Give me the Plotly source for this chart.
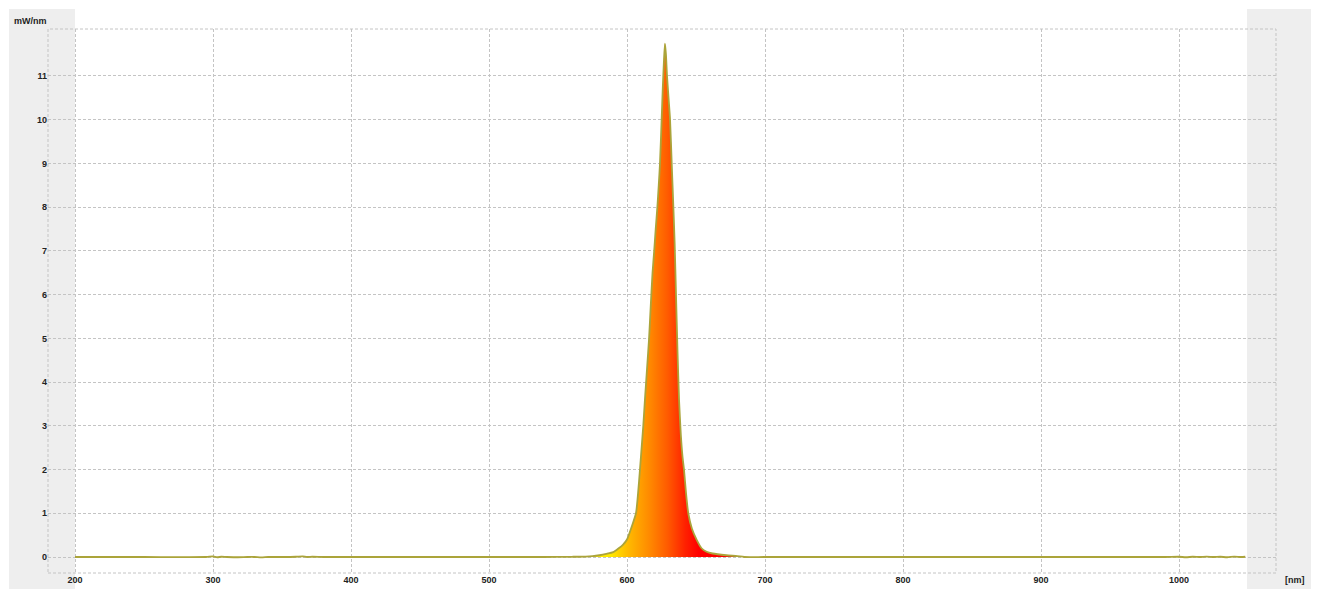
import plotly.graph_objects as go

# ---- data ----
wavelength_nm = [200, 250, 295, 300, 303, 306, 310, 318, 325, 330, 335, 340, 350, 360, 365, 368, 372,
                 380, 400, 450, 500, 540, 560, 570, 575, 580, 585, 590, 594, 597, 600, 603.5, 606.5,
                 608, 609.4, 610.6, 611.8, 613, 614.5, 616, 617.3, 618.5, 619.7, 620.8, 622, 623,
                 623.9, 625.1, 625.9, 626.7, 627.5, 628.2, 629, 630.1, 631.2, 632.4, 633.6, 634.5,
                 635.5, 636.6, 637.7, 639, 640.2, 641.3, 642.8, 644.4, 647, 650.5, 654,
                 657.7, 662, 672, 680, 685, 700, 800, 900, 960, 990, 1000, 1005, 1010, 1015, 1020,
                 1025, 1030, 1035, 1040, 1045, 1048]
power_mw_nm = [0.0, 0.0, 0.0, 0.012, -0.006, 0.006, 0.0, -0.006, 0.0, 0.0, -0.01, 0.0, 0.0, 0.006, 0.015, 0.0, 0.006,
               0.0, 0.0, 0.0, 0.0, 0.0, 0.005, 0.01, 0.02, 0.04, 0.07, 0.11, 0.2, 0.28, 0.4, 0.7, 1.0,
               1.45, 2.0, 2.5, 3.0, 3.6, 4.3, 5.0, 5.8, 6.5, 7.0, 7.5, 8.0, 8.5,
               9.0, 10.0, 10.7, 11.3, 11.74, 11.5, 11.0, 10.5, 10.0, 9.0, 8.0, 7.2,
               6.0, 4.7, 3.6, 2.8, 2.3, 2.0, 1.45, 1.0, 0.65, 0.39, 0.2,
               0.12, 0.08, 0.04, 0.02, 0.0, 0.0, 0.0, 0.0, 0.0, 0.0, 0.006, -0.006, 0.006, 0.0, 0.01,
               0.0, 0.006, -0.006, 0.01, 0.0, 0.006]
x_ticks = [200, 300, 400, 500, 600, 700, 800, 900, 1000]
y_ticks = [0, 1, 2, 3, 4, 5, 6, 7, 8, 9, 10, 11]
y_title = "mW/nm"
x_title = "[nm]"

W, H = 1323, 592
L, R, T, B = 48, 1276, 29, 573  # plot box in px


def px_x(p):
    return (p - L) / (R - L)


def px_y(p):
    return (B - p) / (B - T)


fig = go.Figure()
fig.add_trace(go.Scatter(
    x=wavelength_nm, y=power_mw_nm, mode="lines",
    line=dict(color="#ABA43A", width=1.8, shape="spline", smoothing=0.6),
    fill="tozeroy",
    fillgradient=dict(
        type="horizontal",
        start=588, stop=652,
        colorscale=[[0.0, "#FFEA00"], [0.2, "#FFBA00"], [0.45, "#FF8800"],
                    [0.65, "#FF5A00"], [0.85, "#FF2000"], [1.0, "#FF0000"]],
    ),
    hoverinfo="skip", showlegend=False,
))

grid = dict(showgrid=True, gridcolor="#C4C4C4", griddash="3px,2px", gridwidth=1,
            zeroline=False, showline=False, ticks="", automargin=False,
            tickfont=dict(family="Liberation Sans", size=9, color="#222222", weight="bold"))

fig.update_xaxes(range=[200 - (75 - L) / 1.38, 200 + (R - 75) / 1.38],
                 tickmode="array", tickvals=x_ticks, **grid)
fig.update_yaxes(range=[-(B - 557) / 43.73, (557 - T) / 43.73],
                 tickmode="array", tickvals=y_ticks, **grid)

shapes = [
    dict(type="rect", xref="paper", yref="paper", x0=px_x(9), x1=px_x(75), y0=px_y(589), y1=px_y(9),
         fillcolor="#EEEEEE", line=dict(width=0), layer="below"),
    dict(type="rect", xref="paper", yref="paper", x0=px_x(1247), x1=px_x(1311), y0=px_y(589), y1=px_y(9),
         fillcolor="#EEEEEE", line=dict(width=0), layer="below"),
    dict(type="rect", xref="paper", yref="paper", x0=0, x1=1, y0=0, y1=1,
         line=dict(color="#C4C4C4", width=1, dash="3px,2px"), layer="between"),
]

fig.update_layout(
    width=W, height=H,
    margin=dict(l=L, r=W - R, t=T, b=H - B, autoexpand=False),
    paper_bgcolor="white", plot_bgcolor="rgba(0,0,0,0)",
    shapes=shapes,
    annotations=[
        dict(text=y_title, xref="paper", yref="paper", x=px_x(12), y=px_y(21), xanchor="left",
             yanchor="middle", showarrow=False,
             font=dict(family="Liberation Sans", size=9, color="#222222", weight="bold")),
        dict(text=x_title, xref="paper", yref="paper", x=px_x(1283), y=px_y(580), xanchor="left",
             yanchor="middle", showarrow=False,
             font=dict(family="Liberation Sans", size=9, color="#222222", weight="bold")),
    ],
)

fig.write_html("out.html", config={"displayModeBar": False},
               post_script="document.body.style.margin='0px';")
